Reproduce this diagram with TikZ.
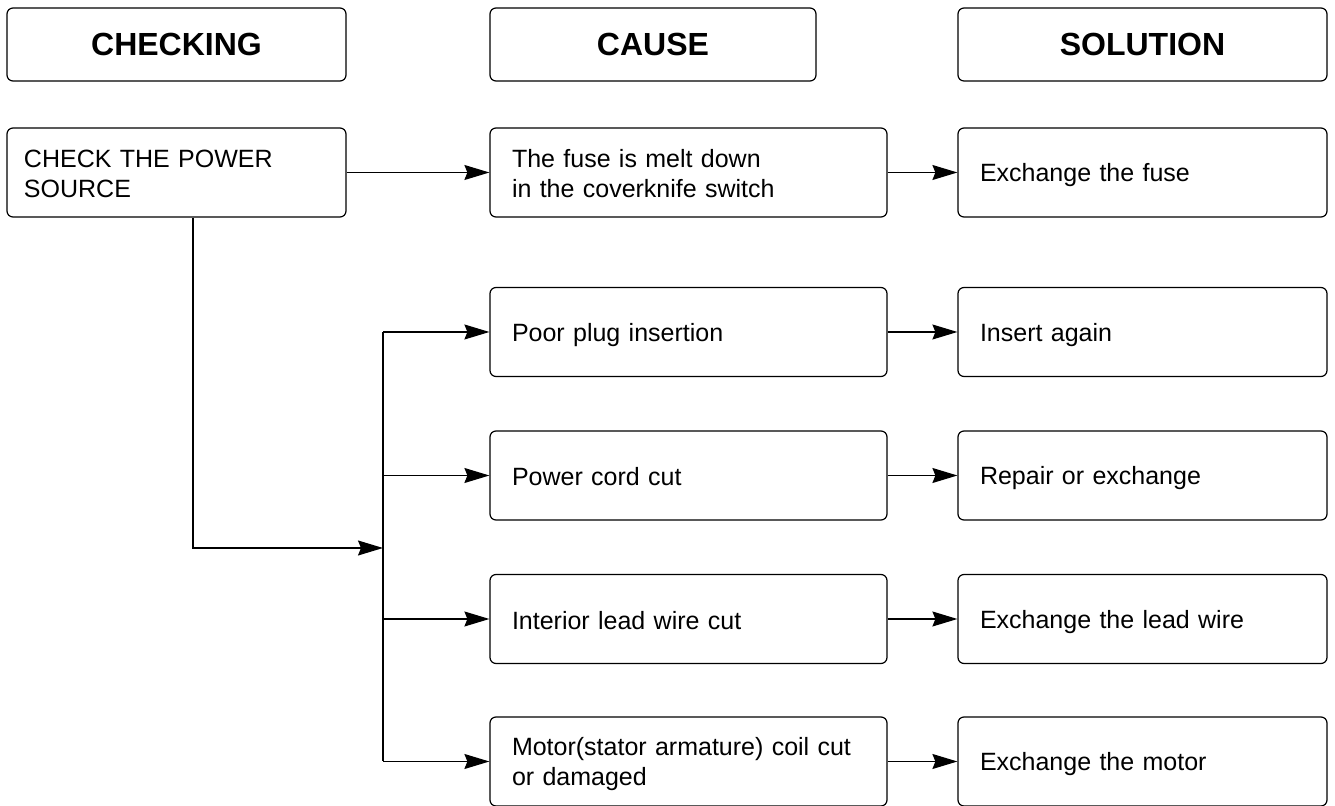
\documentclass[tikz,border=0pt]{standalone}
\usepackage{fontspec}
\setmainfont{Liberation Sans}
\usetikzlibrary{arrows.meta}
\begin{document}
\begin{tikzpicture}[x=0.5pt,y=-0.5pt,
    hdr/.style={draw, line width=0.6pt, rounded corners=3pt, minimum width=#1, minimum height=36.5pt, inner sep=0pt, font=\fontsize{16}{19}\selectfont\bfseries},
    box/.style={draw, line width=0.6pt, rounded corners=3pt, text width=#1, minimum height=44.5pt, inner xsep=11pt, inner ysep=0pt, align=left, font=\fontsize{12.5}{15}\selectfont,
      execute at begin node={\rule{0pt}{12pt}}, execute at end node={\rule[-1.5pt]{0pt}{1.5pt}}},
    arr/.style={-{Stealth[length=12.5pt,width=7.5pt,inset=1.5pt]}, line width=0.6pt}]
\useasboundingbox (0,0) rectangle (1335,806);
% headers
\node[hdr=169.5pt] (hchk) at (176.5,44.5) {CHECKING};
\node[hdr=163pt] (hcau) at (653,44.5) {CAUSE};
\node[hdr=184.5pt] (hsol) at (1142.5,44.5) {SOLUTION};
% first row
\node[box=152.5pt, inner xsep=8.5pt] (chk) at (176.5,172.5) {CHECK THE POWER\\SOURCE};
\node[box=176.5pt] (c0) at (688.5,172.5) {The fuse is melt down\\in the coverknife switch};
\node[box=162.5pt] (s0) at (1142.5,172.5) {Exchange the fuse};
\draw[arr] (chk) -- (c0);
\draw[arr] (c0) -- (s0);
% other rows
\foreach \n/\y/\c/\s in {1/332/Poor plug insertion/Insert again,
    2/475.5/Power cord cut/Repair or exchange,
    3/619/Interior lead wire cut/Exchange the lead wire,
    4/761.5/Motor(stator armature) coil cut\\or damaged/Exchange the motor}{
  \node[box=176.5pt] (c\n) at (688.5,\y) {\c};
  \node[box=162.5pt] (s\n) at (1142.5,\y) {\s};
  \draw[arr] (c\n) -- (s\n);
  \draw[arr] (383,\y) -- (c\n);
}
\coordinate (bt) at (383,332);
\coordinate (bb) at (383,761.5);
\coordinate (bm) at (383,548);
\draw[line width=0.6pt] (bt) -- (bb);
\draw[arr] (chk.south -| 193,0) |- (bm);
\end{tikzpicture}
\end{document}
